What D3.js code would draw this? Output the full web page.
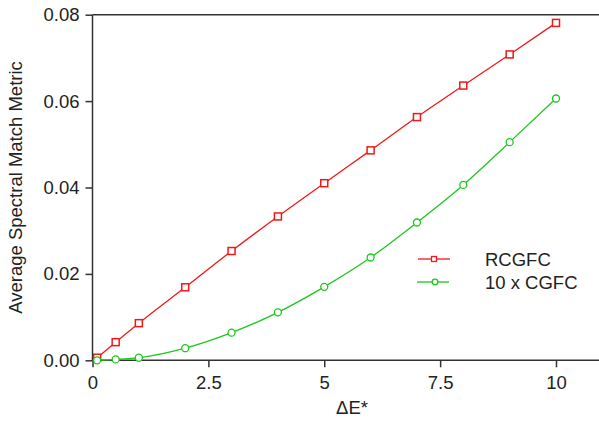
<!DOCTYPE html>
<html>
<head>
<meta charset="utf-8">
<script src="https://cdn.jsdelivr.net/npm/d3@7"></script>
<style>
body { margin: 0; background: #fff; }
svg text { font-family: "Liberation Sans", Arial, sans-serif; fill: #222; }
</style>
</head>
<body>
<div id="chart"></div>
<script>
// data
var deltaE = [0.1, 0.5, 1, 2, 3, 4, 5, 6, 7, 8, 9, 10];
var rcgfc = [0.0006, 0.0042, 0.0086, 0.0169, 0.0253, 0.0333, 0.0410, 0.0486, 0.0563, 0.0636, 0.0708, 0.0781];
var cgfc10 = [0.0, 0.0002, 0.0006, 0.0028, 0.0064, 0.0111, 0.0170, 0.0238, 0.0319, 0.0406, 0.0505, 0.0606];
var xTicks = [0, 2.5, 5, 7.5, 10];
var yTicks = [0, 0.02, 0.04, 0.06, 0.08];
var seriesNames = ["RCGFC", "10 x CGFC"];

var W = 599, H = 430;
var svg = d3.select("#chart").append("svg")
	.attr("width", W)
	.attr("height", H);

var x = d3.scaleLinear().domain([0, 10]).range([92.5, 556]);
var y = d3.scaleLinear().domain([0, 0.08]).range([360.3, 14.7]);

var axisColor = "#333";

// y axis
var yAxis = svg.append("g")
	.attr("transform", "translate(" + x(0) + ",0)")
	.call(d3.axisLeft(y).tickValues(yTicks).tickSize(7).tickPadding(6)
		.tickFormat(d3.format(".2f")));
yAxis.select(".domain").remove();
yAxis.selectAll(".tick line").attr("stroke", axisColor).attr("stroke-width", 1.5);
yAxis.selectAll(".tick text").style("font-size", "18.5px").attr("fill", "#222");

// x axis
var xAxis = svg.append("g")
	.attr("transform", "translate(0," + y(0) + ")")
	.call(d3.axisBottom(x).tickValues(xTicks).tickSize(7).tickPadding(9)
		.tickFormat(function(d) { return d; }));
xAxis.select(".domain").remove();
xAxis.selectAll(".tick line").attr("stroke", axisColor).attr("stroke-width", 1.5);
xAxis.selectAll(".tick text").style("font-size", "18.5px").attr("fill", "#222");

// frame lines: left, bottom, top
svg.append("line").attr("x1", x(0)).attr("x2", x(0)).attr("y1", y(0.08)).attr("y2", y(0))
	.attr("stroke", axisColor).attr("stroke-width", 1.5);
svg.append("line").attr("x1", x(0)).attr("x2", W).attr("y1", y(0)).attr("y2", y(0))
	.attr("stroke", axisColor).attr("stroke-width", 1.5);
svg.append("line").attr("x1", x(0)).attr("x2", W).attr("y1", y(0.08)).attr("y2", y(0.08))
	.attr("stroke", axisColor).attr("stroke-width", 1.5);

// axis titles
svg.append("text")
	.attr("transform", "translate(22," + ((y(0) + y(0.08)) / 2) + ") rotate(-90)")
	.attr("text-anchor", "middle")
	.style("font-size", "18.5px")
	.text("Average Spectral Match Metric");

svg.append("text")
	.attr("x", 352).attr("y", 414)
	.attr("text-anchor", "middle")
	.style("font-size", "18.5px")
	.text("\u0394E*");

var red = "#f01818", green = "#1cc81c";
var line = d3.line()
	.x(function(d, i) { return x(deltaE[i]); })
	.y(function(d) { return y(d); })
	.curve(d3.curveMonotoneX);

svg.append("path").datum(rcgfc)
	.attr("fill", "none").attr("stroke", red).attr("stroke-width", 1.3)
	.attr("d", line);
svg.append("path").datum(cgfc10)
	.attr("fill", "none").attr("stroke", green).attr("stroke-width", 1.3)
	.attr("d", line);

svg.selectAll("rect.red").data(rcgfc).enter().append("rect")
	.attr("class", "red")
	.attr("x", function(d, i) { return x(deltaE[i]) - 3.5; })
	.attr("y", function(d) { return y(d) - 3.5; })
	.attr("width", 7).attr("height", 7)
	.attr("fill", "#fff").attr("stroke", red).attr("stroke-width", 1.5);

svg.selectAll("circle.green").data(cgfc10).enter().append("circle")
	.attr("class", "green")
	.attr("cx", function(d, i) { return x(deltaE[i]); })
	.attr("cy", function(d) { return y(d); })
	.attr("r", 3.5)
	.attr("fill", "#fff").attr("stroke", green).attr("stroke-width", 1.3);

// legend
var lg = svg.append("g");
var legendY = [259, 282];
lg.append("line").attr("x1", 418).attr("x2", 450).attr("y1", legendY[0]).attr("y2", legendY[0])
	.attr("stroke", red).attr("stroke-width", 1.3);
lg.append("rect").attr("x", 431.5).attr("y", legendY[0] - 2.5).attr("width", 5).attr("height", 5)
	.attr("fill", "#fff").attr("stroke", red).attr("stroke-width", 1.3);
lg.append("line").attr("x1", 417).attr("x2", 449).attr("y1", legendY[1]).attr("y2", legendY[1])
	.attr("stroke", green).attr("stroke-width", 1.3);
lg.append("circle").attr("cx", 435).attr("cy", legendY[1]).attr("r", 2.8)
	.attr("fill", "#fff").attr("stroke", green).attr("stroke-width", 1.3);
lg.selectAll("text").data(seriesNames).enter().append("text")
	.attr("x", 485)
	.attr("y", function(d, i) { return legendY[i] + 6.5; })
	.style("font-size", "18.5px")
	.text(function(d) { return d; });
</script>
</body>
</html>
